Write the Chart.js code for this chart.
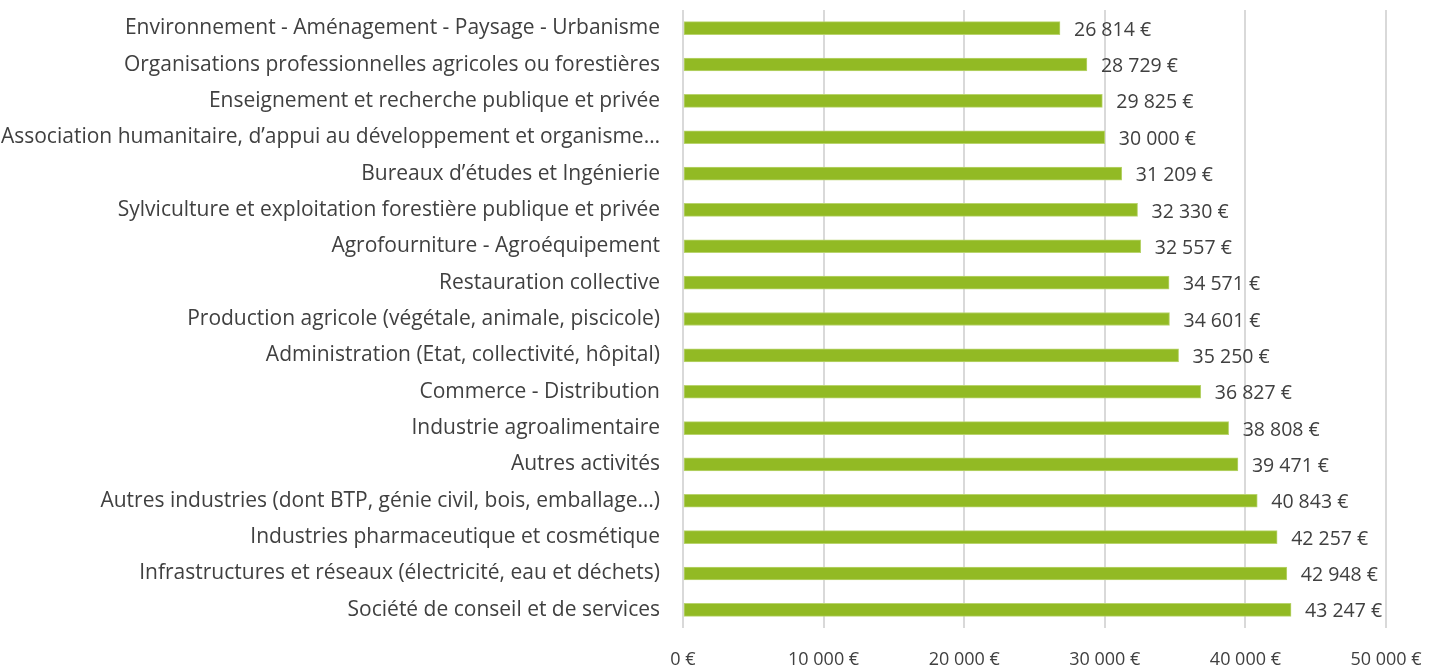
<!DOCTYPE html>
<html>
<head>
<meta charset="utf-8">
<script src="https://cdn.jsdelivr.net/npm/chart.js@4"></script>
<style>
  html, body { margin: 0; padding: 0; background: #fff; }
  #wrap { width: 1446px; height: 668px; }
</style>
</head>
<body>
<div id="wrap"><canvas id="chart" width="1446" height="668"></canvas></div>
<script>
const categories = [
  "Environnement - Aménagement - Paysage - Urbanisme",
  "Organisations professionnelles agricoles ou forestières",
  "Enseignement et recherche publique et privée",
  "Association humanitaire, d’appui au développement et organisme…",
  "Bureaux d’études et Ingénierie",
  "Sylviculture et exploitation forestière publique et privée",
  "Agrofourniture - Agroéquipement",
  "Restauration collective",
  "Production agricole (végétale, animale, piscicole)",
  "Administration (Etat, collectivité, hôpital)",
  "Commerce - Distribution",
  "Industrie agroalimentaire",
  "Autres activités",
  "Autres industries (dont BTP, génie civil, bois, emballage…)",
  "Industries pharmaceutique et cosmétique",
  "Infrastructures et réseaux (électricité, eau et déchets)",
  "Société de conseil et de services"
];
const salaries = [
  26814, 28729, 29825, 30000, 31209, 32330, 32557, 34571, 34601,
  35250, 36827, 38808, 39471, 40843, 42257, 42948, 43247
];
const xTicks = [0, 10000, 20000, 30000, 40000, 50000];

const FONT = "'Open Sans', Lato, sans-serif";
const TEXT = "#404040";

const euro = (v) =>
  v.toString().replace(/\B(?=(\d{3})+(?!\d))/g, " ") + " €";

const valueLabels = {
  id: "valueLabels",
  afterDatasetsDraw(chart) {
    const ctx = chart.ctx;
    const meta = chart.getDatasetMeta(0);
    ctx.save();
    ctx.font = "19.5px " + FONT;
    ctx.fillStyle = TEXT;
    ctx.textAlign = "left";
    ctx.textBaseline = "middle";
    meta.data.forEach((bar, i) => {
      ctx.fillText(euro(salaries[i]), bar.x + 14, bar.y + 2);
    });
    ctx.restore();
  },
};

new Chart(document.getElementById("chart"), {
  type: "bar",
  data: {
    labels: categories,
    datasets: [
      {
        data: salaries,
        backgroundColor: "#92ba24",
        borderColor: "#b9d46e",
        borderWidth: 1,
        borderSkipped: false,
        barThickness: 13,
      },
    ],
  },
  options: {
    indexAxis: "y",
    responsive: false,
    animation: false,
    layout: { padding: { top: 10, right: 60, left: 0, bottom: 0 } },
    plugins: {
      legend: { display: false },
      tooltip: { enabled: false },
    },
    scales: {
      x: {
        min: 0,
        max: 50000,
        afterBuildTicks: (scale) => {
          scale.ticks = xTicks.map((v) => ({ value: v }));
        },
        afterFit: (scale) => {
          scale.height = 40;
          scale.paddingLeft = 0;
          scale.paddingRight = 0;
        },
        border: { display: false },
        grid: { color: "#d9d9d9", lineWidth: 2, drawTicks: false },
        ticks: {
          color: TEXT,
          padding: 21,
          font: { family: FONT, size: 18 },
          callback: (v) => euro(v),
        },
      },
      y: {
        afterFit: (scale) => {
          scale.width = 683;
          scale.paddingTop = 0;
          scale.paddingBottom = 0;
        },
        border: { display: false },
        grid: { display: false, drawTicks: false },
        ticks: {
          color: TEXT,
          padding: 23,
          autoSkip: false,
          font: { family: FONT, size: 21 },
        },
      },
    },
  },
  plugins: [valueLabels],
});
</script>
</body>
</html>
